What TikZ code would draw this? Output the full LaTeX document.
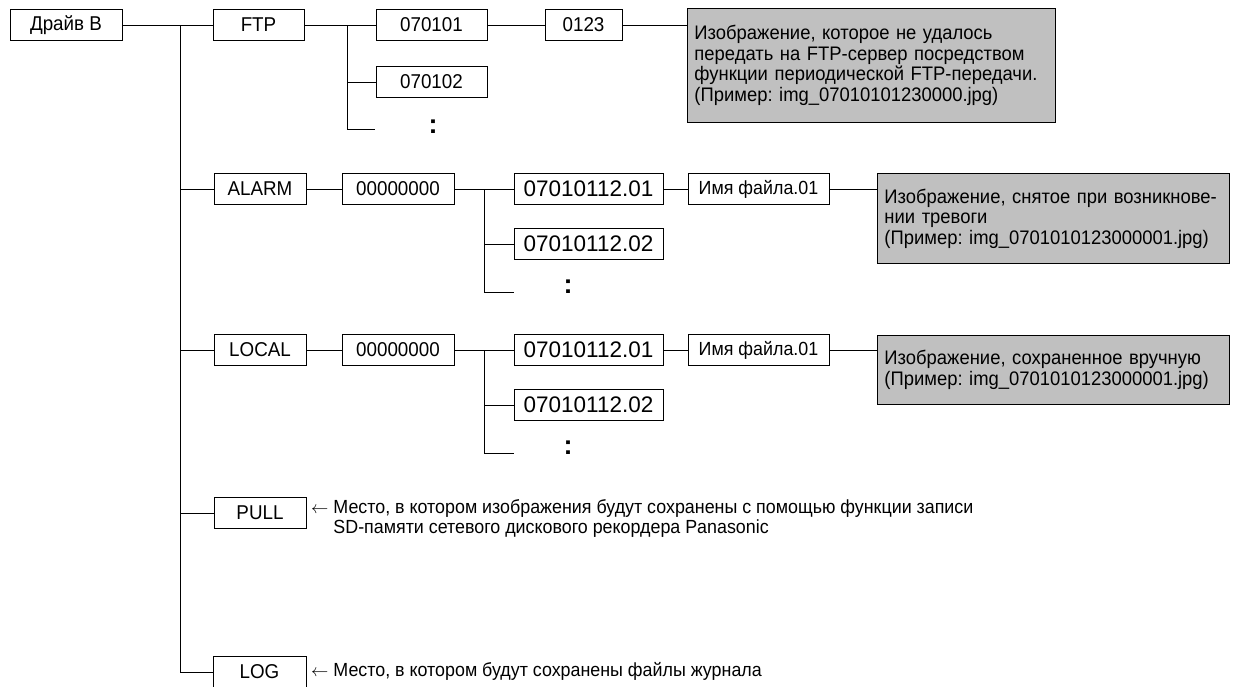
\documentclass[tikz,border=0pt]{standalone}
\usepackage{fontspec}
\setmainfont{Liberation Sans}
\newfontfamily\narrowsf[FakeStretch=0.94]{Liberation Sans}
\usetikzlibrary{positioning}
\definecolor{noteFill}{RGB}{192,192,192}
\tikzset{
  dirbox/.style={rectangle, draw, line width=0.9pt, minimum height=31pt, inner sep=0pt,
                 font=\narrowsf\fontsize{20}{22}\selectfont},
  filebox/.style={dirbox, font=\fontsize{22.5}{24}\selectfont},
  namebox/.style={dirbox, font=\narrowsf\fontsize{19}{22}\selectfont},
  note/.style={rectangle, draw, fill=noteFill, line width=0.9pt, anchor=north west,
               align=left, inner xsep=7pt, inner ysep=4pt, font=\narrowsf\fontsize{19.6}{20.5}\selectfont},
  remark/.style={anchor=west, align=left, inner sep=0pt, font=\narrowsf\fontsize{19}{20}\selectfont},
  dots/.style={inner sep=0pt, font=\bfseries\fontsize{27}{27}\selectfont},
  link/.style={line width=0.9pt},
}
\begin{document}
\frenchspacing
\begin{tikzpicture}[x=1pt,y=-1pt]
  \useasboundingbox (0,0) rectangle (1241,686);
  \node[dirbox, minimum width=112pt] (drive) at (66,25) {Драйв В};
  \coordinate (j0) at (180,25);

  \node[dirbox, minimum width=91pt] (ftp) at (258.5,25) {FTP};
  \node[dirbox, minimum width=111pt] (d0101) at (431.5,25) {070101};
  \node[dirbox, minimum width=111pt] (d0102) at (431.5,82) {070102};
  \node[dots] (fdots) at (433,127) {:};
  \node[dirbox, minimum width=77pt] (hour) at (583.5,25) {0123};
  \node[note, text width=354pt, minimum height=114pt] (fnote) at (687,8)
    {Изображение, которое не удалось\\передать на FTP-сервер посредством\\функции периодической FTP-передачи.\\(Пример: img\_07010101230000.jpg)};
  \coordinate (j1) at (347,25);
  \coordinate (fend) at (375,129);

  \node[dirbox, minimum width=92pt] (alarm) at (260,189) {ALARM};
  \node[dirbox, minimum width=112pt] (aday) at (398,189) {00000000};
  \node[filebox, minimum width=149pt] (afile1) at (588.5,189) {07010112.01};
  \node[filebox, minimum width=149pt] (afile2) at (588.5,244) {07010112.02};
  \node[dots] (adots) at (568,287) {:};
  \node[namebox, minimum width=141pt] (aname) at (758.5,189) {Имя файла.01};
  \node[note, text width=338pt, minimum height=90pt] (anote) at (877,173)
    {Изображение, снятое при возникнове-\\нии тревоги\\(Пример: img\_0701010123000001.jpg)};
  \coordinate (j2) at (484,189);
  \coordinate (aend) at (514,292);

  \node[dirbox, minimum width=92pt] (local) at (260,350) {LOCAL};
  \node[dirbox, minimum width=112pt] (lday) at (398,350) {00000000};
  \node[filebox, minimum width=149pt] (lfile1) at (588.5,350) {07010112.01};
  \node[filebox, minimum width=149pt] (lfile2) at (588.5,405) {07010112.02};
  \node[dots] (ldots) at (568,448) {:};
  \node[namebox, minimum width=141pt] (lname) at (758.5,350) {Имя файла.01};
  \node[note, text width=338pt, minimum height=69pt] (lnote) at (877,335)
    {Изображение, сохраненное вручную\\(Пример: img\_0701010123000001.jpg)};
  \coordinate (j3) at (484,350);
  \coordinate (lend) at (514,453);

  \node[dirbox, minimum width=92pt] (pull) at (260,513) {PULL};
  \node[remark] (pullnote) at (311,518)
    {$\leftarrow$ Место, в котором изображения будут сохранены с помощью функции записи\\
     \phantom{$\leftarrow$} SD-памяти сетевого дискового рекордера Panasonic};
  \node[dirbox, minimum width=93pt] (log) at (259.5,672) {LOG};
  \node[remark] (lognote) at (311,671) {$\leftarrow$ Место, в котором будут сохранены файлы журнала};

  \draw[link] (drive) -- (ftp);
  \draw[link] (j0) |- (log);
  \foreach \n in {alarm,local,pull}
    \draw[link] (j0 |- \n) -- (\n);

  \draw[link] (ftp) -- (d0101);
  \draw[link] (j1) |- (fend);
  \draw[link] (j1 |- d0102) -- (d0102);
  \draw[link] (d0101) -- (hour);
  \draw[link] (hour) -- (fnote.west |- hour);

  \draw[link] (alarm) -- (aday);
  \draw[link] (aday) -- (afile1);
  \draw[link] (j2) |- (aend);
  \draw[link] (j2 |- afile2) -- (afile2);
  \draw[link] (afile1) -- (aname);
  \draw[link] (aname) -- (anote.west |- aname);

  \draw[link] (local) -- (lday);
  \draw[link] (lday) -- (lfile1);
  \draw[link] (j3) |- (lend);
  \draw[link] (j3 |- lfile2) -- (lfile2);
  \draw[link] (lfile1) -- (lname);
  \draw[link] (lname) -- (lnote.west |- lname);
\end{tikzpicture}
\end{document}
